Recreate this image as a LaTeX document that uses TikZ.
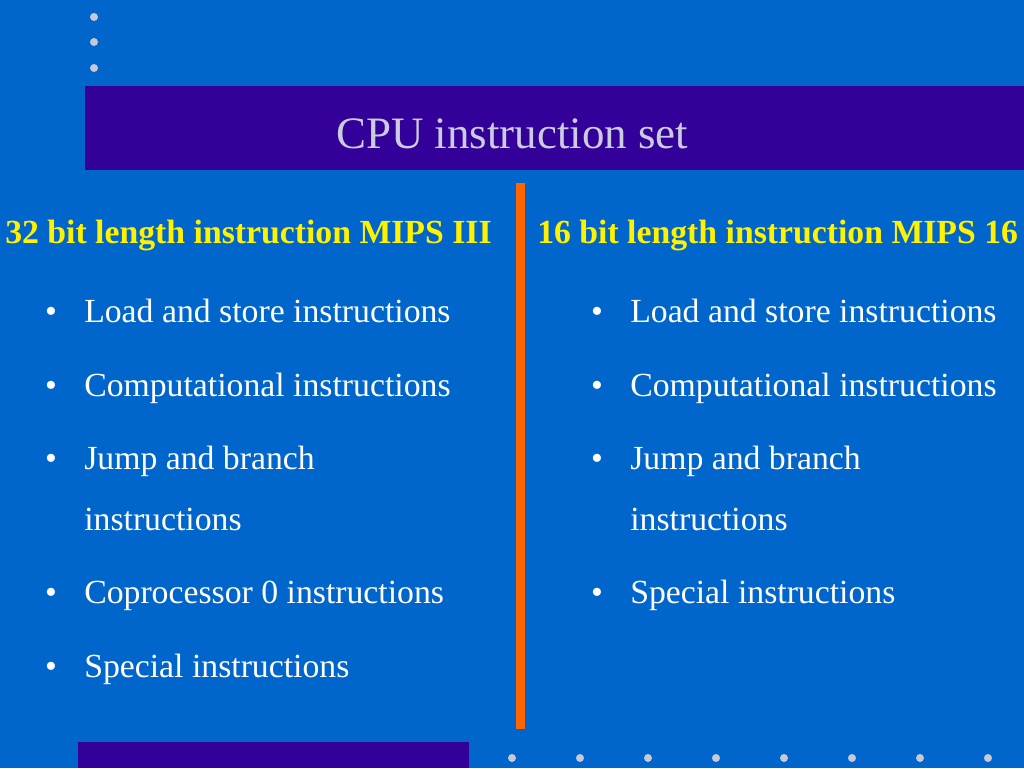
\documentclass[tikz,border=0pt]{standalone}
\usepackage{fontspec}
\setmainfont{Liberation Serif}
\definecolor{slidebg}{RGB}{0,102,204}
\definecolor{titlebar}{RGB}{51,0,153}
\definecolor{titletext}{RGB}{204,204,224}
\definecolor{dotgray}{RGB}{200,200,215}
\definecolor{divider}{RGB}{255,102,0}
\tikzset{
  item/.style={anchor=base west, inner sep=0pt, text=white, font=\fontsize{25.3}{30}\selectfont},
  bul/.style={anchor=base, inner sep=0pt, text=white, font=\fontsize{25.3}{30}\selectfont},
  head/.style={anchor=base west, inner sep=0pt, text=yellow, font=\fontsize{25.3}{30}\selectfont\bfseries},
  dot/.style={circle, fill=dotgray, inner sep=0pt, minimum size=6pt}
}

\begin{document}
\begin{tikzpicture}[x=0.75pt, y=-0.75pt]

  % Background and bars
  \fill[slidebg] (0,0) rectangle (1024,768);
  \useasboundingbox (0,0) rectangle (1024,768);
  \fill[titlebar] (85,86) rectangle (1024,170);
  \fill[titlebar] (78,742) rectangle (469,768);
  \fill[divider] (516,183) rectangle (525,729);

  % Dots
  \foreach \y in {17,42,68} \node[dot] at (94,\y) {};
  \foreach \k in {0,...,7} \node[dot] at (512+68*\k,758) {};

  % Title
  \node[anchor=base west, inner sep=0pt, text=titletext,
        font=\fontsize{33.7}{40}\selectfont] (title) at (336,148) {CPU instruction set};

  % Left column
  \node[head] (lhead) at (5,243) {32 bit length instruction MIPS III};
  \node[item] (l1)  at (84,322) {Load and store instructions};
  \node[item] (l2)  at (84,396) {Computational instructions};
  \node[item] (l3)  at (84,469) {Jump and branch};
  \node[item] (l3b) at (84,530) {instructions};
  \node[item] (l4)  at (84,603) {Coprocessor 0 instructions};
  \node[item] (l5)  at (84,677) {Special instructions};
  \foreach \y in {322,396,469,603,677} \node[bul] at (51,\y) {•};

  % Right column
  \node[head] (rhead) at (537,243) {16 bit length instruction MIPS 16};
  \node[item] (r1)  at (630,322) {Load and store instructions};
  \node[item] (r2)  at (630,396) {Computational instructions};
  \node[item] (r3)  at (630,469) {Jump and branch};
  \node[item] (r3b) at (630,530) {instructions};
  \node[item] (r4)  at (630,603) {Special instructions};
  \foreach \y in {322,396,469,603} \node[bul] at (597,\y) {•};

\end{tikzpicture}
\end{document}
